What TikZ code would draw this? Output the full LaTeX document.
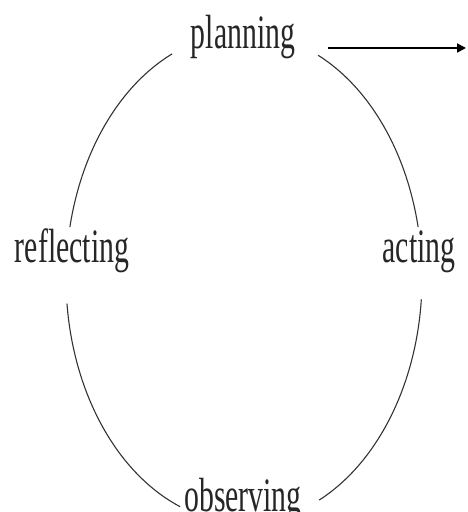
\documentclass[tikz,border=0pt]{standalone}
\usepackage{fontspec}
\setmainfont{Liberation Serif}
\usetikzlibrary{arrows.meta}
\begin{document}
\begin{tikzpicture}[x=1pt,y=1pt,
  lbl/.style={inner sep=0pt,anchor=base,xscale=0.62,text=black!85,font=\fontsize{48}{52}\selectfont},
  cyc/.style={draw=black!80,line width=1.1pt}]
\useasboundingbox (0,0) rectangle (467,512);
\node[lbl] (planning) at (243,463) {planning};
\node[lbl] (reflecting) at (72,249) {reflecting};
\node[lbl] (acting) at (419,249) {acting};
\node[lbl] (observing) at (243,1) {observing};
\coordinate (c) at (244,234);
\coordinate (arrowstart) at (328,464);
\coordinate (arrowend) at (466,464);
\draw[cyc] ([shift={(113.8:178 and 245)}]c) arc[start angle=113.8,end angle=168,x radius=178,y radius=245];
\draw[cyc] ([shift={(65.4:178 and 245)}]c) arc[start angle=65.4,end angle=12,x radius=178,y radius=245];
\draw[cyc] ([shift={(186:178 and 245)}]c) arc[start angle=186,end angle=249,x radius=178,y radius=245];
\draw[cyc] ([shift={(-5:178 and 245)}]c) arc[start angle=-5,end angle=-65,x radius=178,y radius=245];
\draw[line width=1.8pt,-{Triangle[length=9pt,width=9pt]}] (arrowstart) -- (arrowend);
\end{tikzpicture}
\end{document}
